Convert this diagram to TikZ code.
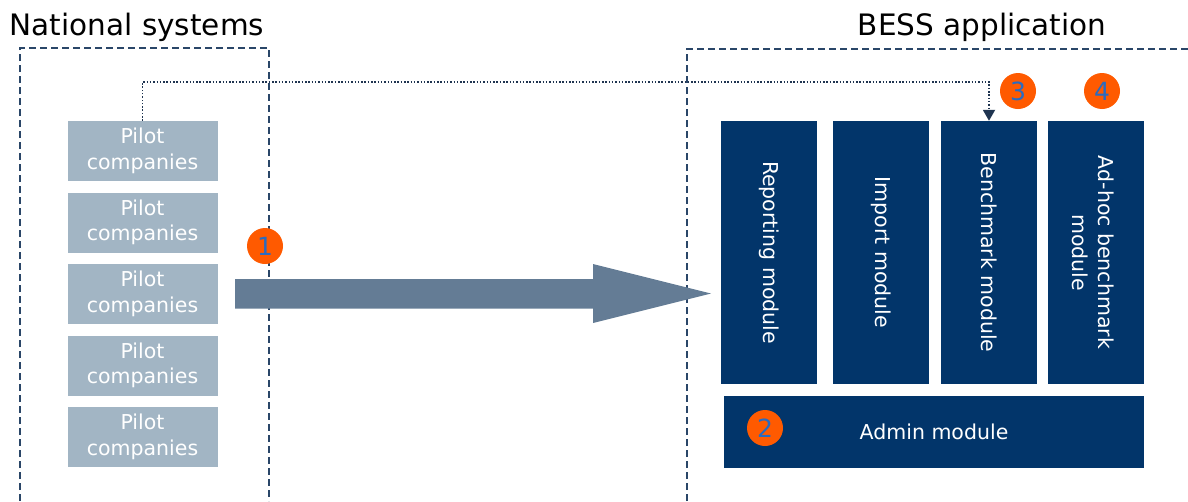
\documentclass[tikz,border=0pt]{standalone}
\usepackage{fontspec}
\setmainfont{DejaVu Sans}
\usetikzlibrary{arrows.meta}
\definecolor{pilotfill}{HTML}{A2B5C4}
\definecolor{navy}{HTML}{02356A}
\definecolor{arrowfill}{HTML}{647C95}
\definecolor{badge}{HTML}{FF5A00}
\definecolor{badgetext}{HTML}{2A6BC0}
\definecolor{frame}{HTML}{2A4668}
\definecolor{dotline}{HTML}{1F3450}
\tikzset{
  frameline/.style={draw=frame, line width=1.6pt, dash pattern=on 7pt off 4pt},
  pilotbox/.style={fill=pilotfill, text=white, minimum width=150pt, minimum height=60pt, inner sep=0pt, align=center, font=\fontsize{20.5}{25.5}\selectfont},
  modbox/.style={fill=navy, text=white, minimum width=96pt, minimum height=263pt, inner sep=0pt},
  modtext/.style={text=white, rotate=-90, align=center, font=\fontsize{20.5}{25.5}\selectfont},
  badgenode/.style={circle, fill=badge, text=badgetext, minimum size=36pt, inner sep=0pt, font=\fontsize{25}{25}\selectfont},
  titletext/.style={font=\fontsize{29.5}{30}\selectfont, anchor=base}
}
\begin{document}
\begin{tikzpicture}[x=1pt,y=-1pt]
\useasboundingbox (0,0) rectangle (1188,501);
% titles
\node[titletext] (tnat) at (137,35) {National systems};
\node[titletext] (tbess) at (982,35) {BESS application};
% dashed frames
\draw[frameline] (20,501) -- (20,48) -- (269,48) -- (269,501);
\draw[frameline] (687,501) -- (687,49) -- (1188,49);
% pilot boxes
\node[pilotbox] (p1) at (142.5,151) {Pilot\\companies};
\node[pilotbox] (p2) at (142.5,222.5) {Pilot\\companies};
\node[pilotbox] (p3) at (142.5,294) {Pilot\\companies};
\node[pilotbox] (p4) at (142.5,365.5) {Pilot\\companies};
\node[pilotbox] (p5) at (142.5,437) {Pilot\\companies};
% big arrow
\fill[arrowfill] (235,279) -- (593,279) -- (593,264) -- (711,293.5) -- (593,323) -- (593,308.5) -- (235,308.5) -- cycle;
% modules
\node[modbox] (rep) at (769,252.5) {};
\node[modtext] at (rep.center) {Reporting module};
\node[modbox] (imp) at (881,252.5) {};
\node[modtext] at (imp.center) {Import module};
\node[modbox] (bench) at (989,252.5) {};
\node[modtext] at (bench.center) {Benchmark module};
\node[modbox] (adhoc) at (1096,252.5) {};
\node[modtext] at ([xshift=-3pt]adhoc.center) {Ad-hoc benchmark\\module};
\node[fill=navy, text=white, minimum width=420pt, minimum height=72pt, inner sep=0pt, font=\fontsize{20.5}{25.5}\selectfont] (admin) at (934,432) {Admin module};
% badges
\node[badgenode] (c1) at (265,246) {1};
\node[badgenode] (c2) at (765,428) {2};
\node[badgenode] (c3) at (1018,91) {3};
\node[badgenode] (c4) at (1102,91) {4};
% dotted connector
\coordinate (lvl) at (0,82);
\draw[dotline, line width=1.8pt, dash pattern=on 1.5pt off 1.8pt, -{Triangle[width=12pt,length=11pt]}] (p1.north) -- (p1.north |- lvl) -| (bench.north);
\end{tikzpicture}
\end{document}
